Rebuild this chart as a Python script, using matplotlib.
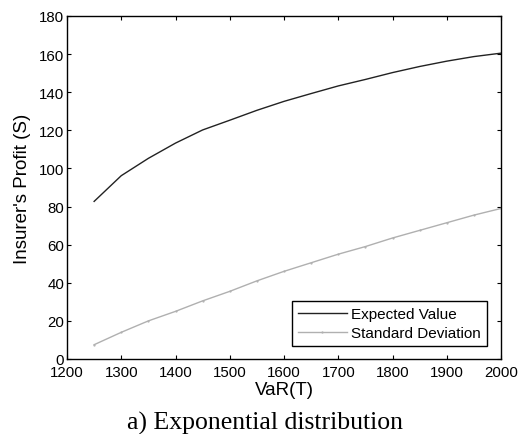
import numpy as np
import matplotlib.pyplot as plt

var_t = [1250, 1300, 1350, 1400, 1450, 1500, 1550, 1600, 1650, 1700,
         1750, 1800, 1850, 1900, 1950, 2000]
expected = [82.7, 96.2, 105.3, 113.3, 120.2, 125.3, 130.5, 135.2, 139.3,
            143.3, 146.7, 150.3, 153.5, 156.3, 158.7, 160.5]
std_dev = [7.5, 14.0, 20.0, 25.0, 30.5, 35.5, 41.0, 46.0, 50.5, 55.0,
           59.0, 63.5, 67.5, 71.5, 75.5, 79.0]
xticks = [1200, 1300, 1400, 1500, 1600, 1700, 1800, 1900, 2000]
yticks = [0, 20, 40, 60, 80, 100, 120, 140, 160, 180]

plt.rcParams['font.family'] = ['Liberation Sans', 'DejaVu Sans']

fig = plt.figure(figsize=(5.19, 4.35), dpi=100)
ax = fig.add_axes([67/519, 1 - 360/435, 434/519, 343/435])

ax.plot(var_t, expected, color='#222222', lw=1.0, label='Expected Value')
ax.plot(var_t, std_dev, color='#b0b0b0', lw=1.0, marker='.', markersize=1.2,
        label='Standard Deviation')

ax.set_xlim(1200, 2000)
ax.set_ylim(0, 180)
ax.set_xticks(xticks)
ax.set_yticks(yticks)
ax.tick_params(direction='in', length=3, width=0.8, top=True, right=True,
               labelsize=10.8, pad=3)
ax.tick_params(axis='x', pad=4.5)
ax.tick_params(axis='y', pad=2)
for s in ax.spines.values():
    s.set_linewidth(1.0)

ax.set_xlabel('VaR(T)', fontsize=13.5, labelpad=1)
ax.set_ylabel("Insurer's Profit (S)", fontsize=13.5, labelpad=6)

leg = ax.legend(loc='lower right', fontsize=11, fancybox=False, framealpha=1,
                edgecolor='black', bbox_to_anchor=(487/519, 1 - 347/435),
                bbox_transform=fig.transFigure, borderaxespad=0,
                handlelength=3.2, borderpad=0.4, labelspacing=0.3,
                handletextpad=0.3)
leg.get_frame().set_linewidth(1.0)

fig.text(0.51, 1 - 430/435, 'a) Exponential distribution', ha='center',
         va='baseline', fontsize=18.5,
         family=['Liberation Serif', 'DejaVu Serif'])

fig.savefig('out.png', dpi=100)
